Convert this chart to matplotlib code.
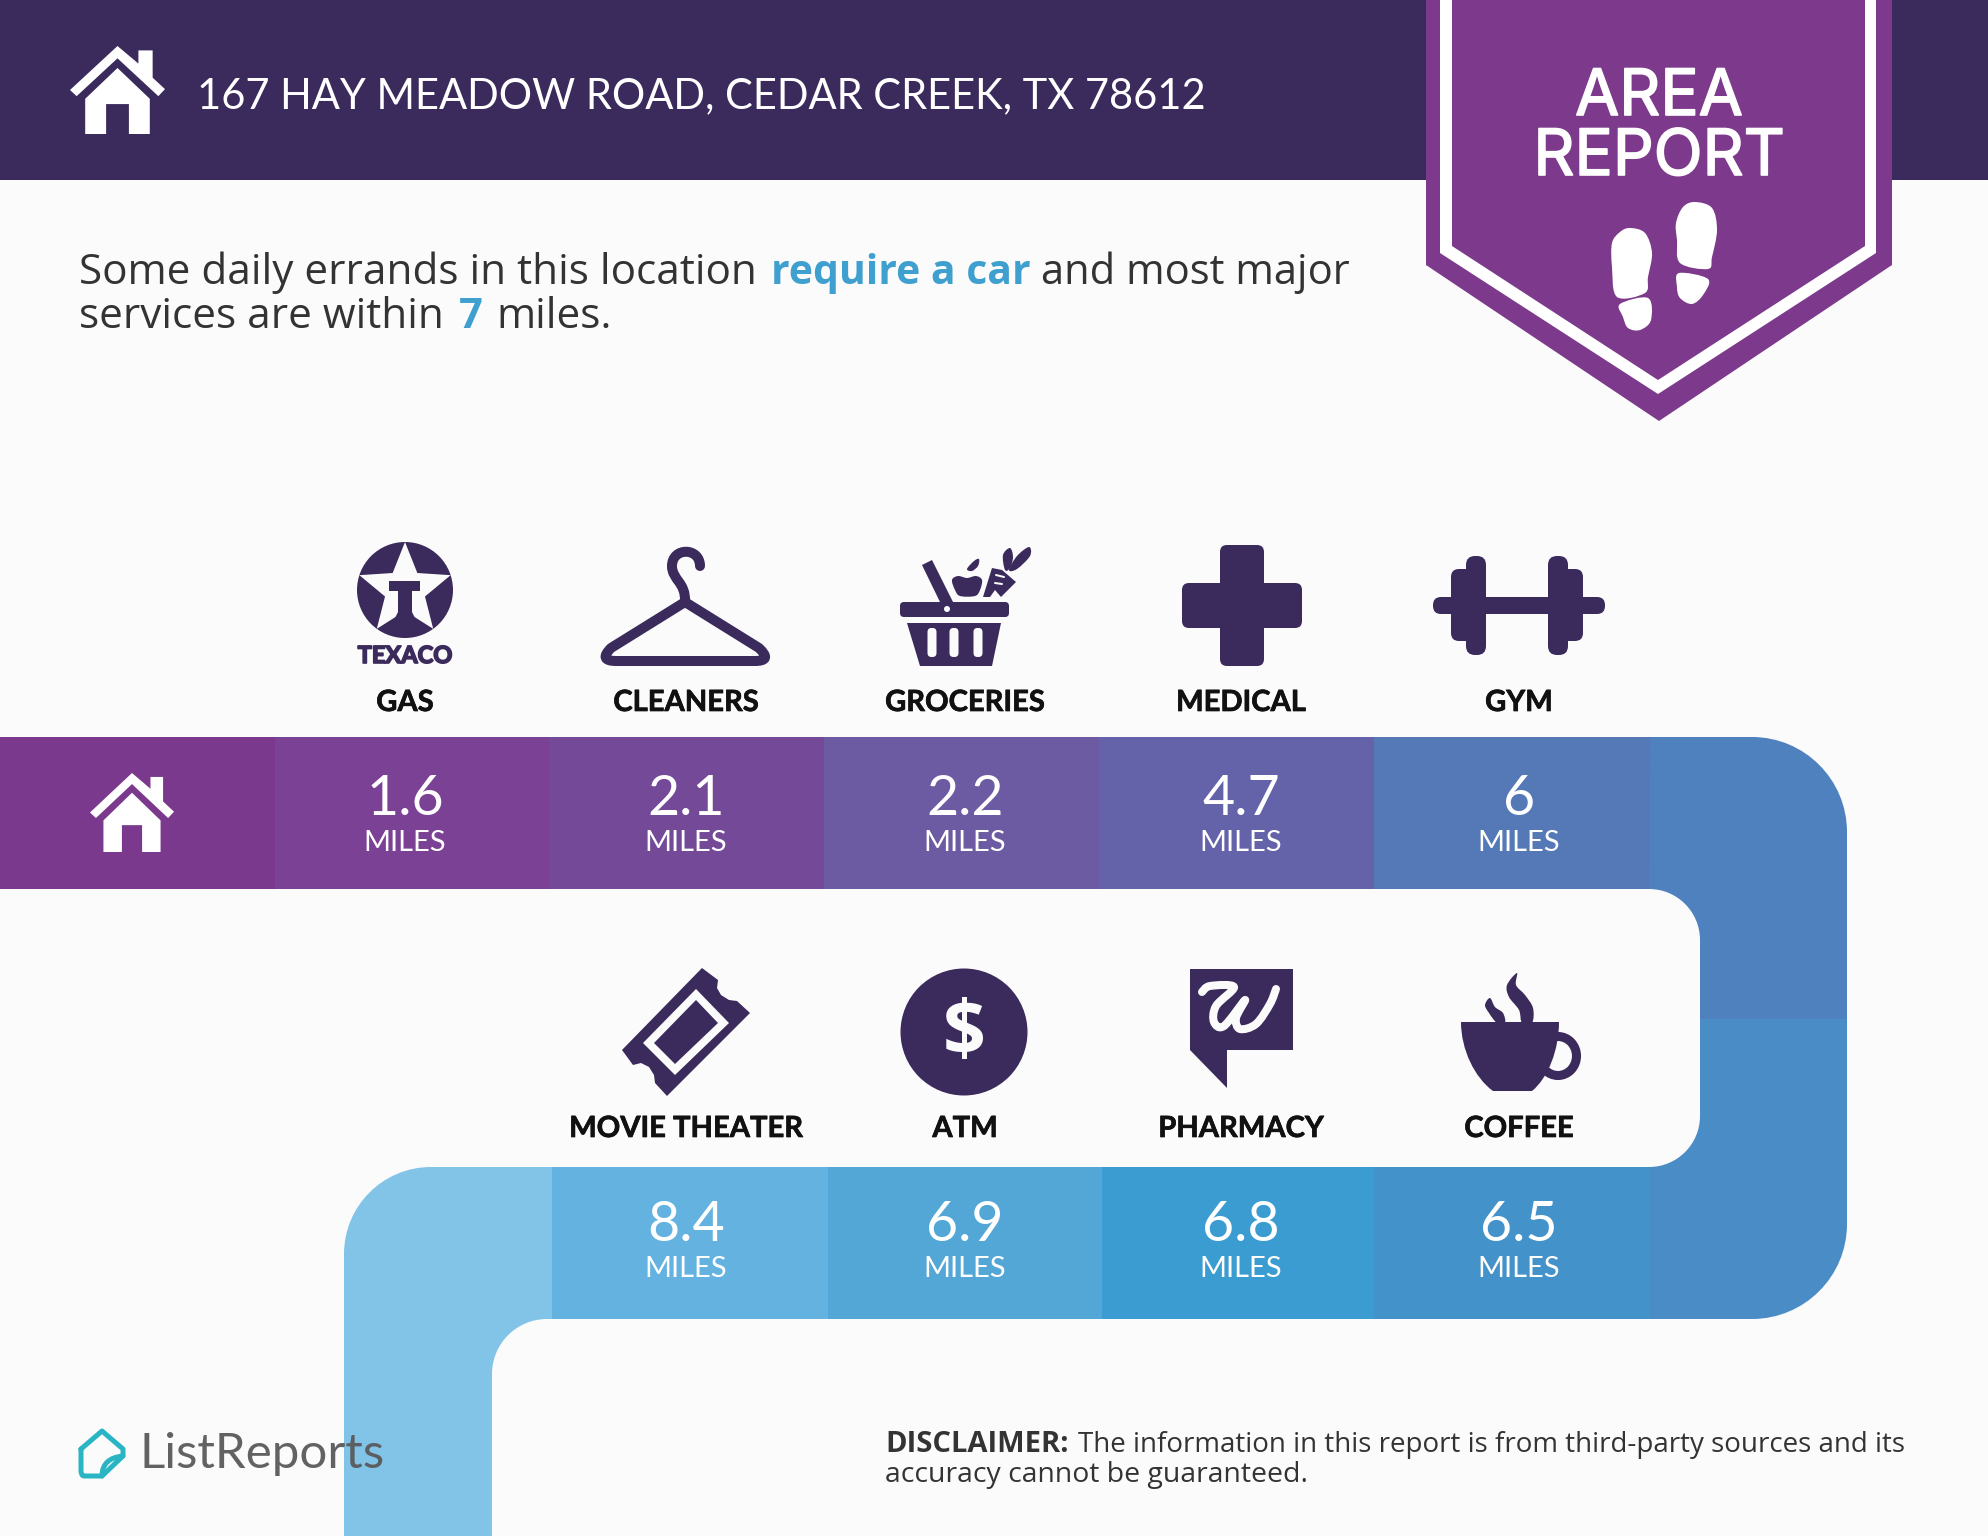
import numpy as np
import matplotlib
matplotlib.use('Agg')
import matplotlib.pyplot as plt
import matplotlib.patheffects as pe
from matplotlib.patches import Polygon, Rectangle, Circle, Ellipse, FancyBboxPatch, PathPatch
from matplotlib.path import Path

# Chart values
address = '167 HAY MEADOW ROAD, CEDAR CREEK, TX 78612'
top_labels = ['GAS', 'CLEANERS', 'GROCERIES', 'MEDICAL', 'GYM']
top_miles = [1.6, 2.1, 2.2, 4.7, 6]
bottom_labels = ['MOVIE THEATER', 'ATM', 'PHARMACY', 'COFFEE']
bottom_miles = [8.4, 6.9, 6.8, 6.5]

# Colours
BG = '#fbfbfb'
DARK = '#3b2a5c'
PURPLE = '#7d398c'
BLUE_TXT = '#3fa0cf'
GREY_TXT = '#333333'
top_colors = ['#7b398d', '#7a4195', '#744a98', '#6c5aa2', '#6463a9', '#5579b7']
bottom_colors = ['#81c4e8', '#64b2e0', '#52a7d6', '#3b9cd2', '#4392ca']
RIGHT_UP = '#4e81bd'
RIGHT_DOWN = '#4a8cc6'

plt.rcParams['font.family'] = ['Lato', 'DejaVu Sans']
BODY = ['Open Sans', 'DejaVu Sans']
INTER = ['Inter', 'DejaVu Sans']

fig = plt.figure(figsize=(19.88, 15.36), dpi=100, facecolor=BG)
ax = fig.add_axes([0, 0, 1, 1])
ax.set_xlim(0, 1988)
ax.set_ylim(1536, 0)
ax.axis('off')


def poly(pts, color, z=3):
    ax.add_patch(Polygon(pts, closed=True, facecolor=color, edgecolor='none', zorder=z))


def spline_path(pts, closed):
    # Catmull-Rom through pts, written as cubic beziers
    pts = np.array(pts, dtype=float)
    n = len(pts)
    verts = [pts[0]]
    codes = [Path.MOVETO]
    for i in range(n if closed else n - 1):
        if closed:
            p0, p1, p2, p3 = pts[(i - 1) % n], pts[i], pts[(i + 1) % n], pts[(i + 2) % n]
        else:
            p0, p1, p2, p3 = pts[max(i - 1, 0)], pts[i], pts[i + 1], pts[min(i + 2, n - 1)]
        verts += [p1 + (p2 - p0) / 6, p2 - (p3 - p1) / 6, p2]
        codes += [Path.CURVE4] * 3
    return Path(verts, codes)


def blob(pts, color, z=3):
    ax.add_patch(PathPatch(spline_path(pts, True), facecolor=color, edgecolor='none', zorder=z))


def curve(pts, color, width, z=3):
    ax.add_patch(PathPatch(spline_path(pts, False), facecolor='none', edgecolor=color, lw=width * 0.72,
                           capstyle='round', joinstyle='round', zorder=z))


def stroke(verts, codes, color, width, z=3):
    ax.add_patch(PathPatch(Path(verts, codes), facecolor='none', edgecolor=color,
                           lw=width * 0.72, capstyle='round', joinstyle='round', zorder=z))


def rbox(x0, y0, x1, y1, r, color, z=3):
    ax.add_patch(FancyBboxPatch((x0 + r, y0 + r), x1 - x0 - 2 * r, y1 - y0 - 2 * r, boxstyle=f'round,pad={r}',
                                facecolor=color, edgecolor='none', zorder=z))


def house(x, y, w, h, color, z=4):
    pts = [(0, .5), (.5, 0), (.72, .2), (.72, .05), (.87, .05), (.87, .36), (1, .49), (.93, .57),
           (.5, .14), (.07, .57)]
    poly([(x + a * w, y + b * h) for a, b in pts], color, z)
    pts = [(.16, .6), (.5, .25), (.84, .6), (.84, 1), (.62, 1), (.62, .66), (.38, .66), (.38, 1), (.16, 1)]
    poly([(x + a * w, y + b * h) for a, b in pts], color, z)


def body_text(x, y, words, size, color=GREY_TXT, weight='normal'):
    ax.text(x, y, words, fontsize=size, color=color, fontweight=weight, family=BODY, va='baseline', ha='left', zorder=6)


# Header
ax.add_patch(Rectangle((0, 0), 1988, 180, facecolor=DARK, edgecolor='none', zorder=1))
house(70, 46, 95, 88, 'white')
ax.text(197, 108, address, fontsize=30, color='white', va='baseline', zorder=6)

# Banner
poly([(1426, 0), (1892, 0), (1892, 265), (1659, 421), (1426, 265)], PURPLE, 2)
poly([(1440, 0), (1876, 0), (1876, 253), (1658, 394), (1440, 253)], 'white', 2)
poly([(1452, 0), (1865, 0), (1865, 246), (1658, 380), (1452, 246)], PURPLE, 2)
heavy = [pe.withStroke(linewidth=1.2, foreground='white')]
ax.text(1659, 115, 'AREA', fontsize=46, family=INTER, color='white', ha='center', va='baseline', zorder=6, path_effects=heavy)
ax.text(1659, 175, 'REPORT', fontsize=46, family=INTER, color='white', ha='center', va='baseline', zorder=6, path_effects=heavy)

# Foot prints
blob([(1630, 228), (1645, 233), (1652, 253), (1648, 277), (1645, 293), (1617, 297), (1612, 267), (1612, 243), (1620, 232)], 'white', 4)
blob([(1620, 304), (1648, 298), (1651, 320), (1640, 330), (1628, 328), (1623, 317)], 'white', 4)
blob([(1695, 202), (1712, 208), (1717, 230), (1712, 257), (1708, 269), (1680, 263), (1677, 240), (1676, 223), (1683, 207)], 'white', 4)
blob([(1679, 273), (1708, 279), (1703, 295), (1692, 304), (1680, 298), (1677, 287)], 'white', 4)

# Intro text
body_text(79, 284, 'Some daily errands in this location', 30.4)
body_text(771, 284, 'require a car', 29.4, BLUE_TXT, 'bold')
body_text(1041, 284, 'and most major', 30)
body_text(79, 328, 'services are within', 30.4)
body_text(459, 328, '7', 30, BLUE_TXT, 'bold')
body_text(496, 328, 'miles.', 30.4)

# Ribbon, top row
top_edges = [0, 275, 549, 824, 1099, 1374, 1650]
for i in range(6):
    ax.add_patch(Rectangle((top_edges[i], 737), top_edges[i + 1] - top_edges[i], 152,
                           facecolor=top_colors[i], edgecolor='none', zorder=2))
K = 0.5523
verts = [(1650, 737), (1752, 737), (1752 + 95 * K, 737), (1847, 832 - 95 * K), (1847, 832), (1847, 1019),
         (1700, 1019), (1700, 940), (1700, 940 - 51 * K), (1649 + 51 * K, 889), (1649, 889), (1650, 737)]
codes = [Path.MOVETO, Path.LINETO, Path.CURVE4, Path.CURVE4, Path.CURVE4, Path.LINETO, Path.LINETO, Path.LINETO,
         Path.CURVE4, Path.CURVE4, Path.CURVE4, Path.CLOSEPOLY]
ax.add_patch(PathPatch(Path(verts, codes), facecolor=RIGHT_UP, edgecolor='none', zorder=2))

# Ribbon, bottom row
verts = [(1650, 1319), (1752, 1319), (1752 + 95 * K, 1319), (1847, 1224 + 95 * K), (1847, 1224), (1847, 1019),
         (1700, 1019), (1700, 1116), (1700, 1116 + 51 * K), (1649 + 51 * K, 1167), (1649, 1167), (1650, 1319)]
ax.add_patch(PathPatch(Path(verts, codes), facecolor=RIGHT_DOWN, edgecolor='none', zorder=2))
bottom_edges = [552, 828, 1102, 1374, 1650]
for i in range(4):
    ax.add_patch(Rectangle((bottom_edges[i], 1167), bottom_edges[i + 1] - bottom_edges[i], 152,
                           facecolor=bottom_colors[i + 1], edgecolor='none', zorder=2))
verts = [(552, 1167), (431, 1167), (431 - 87 * K, 1167), (344, 1254 - 87 * K), (344, 1254), (344, 1536),
         (492, 1536), (492, 1374), (492, 1374 - 55 * K), (547 - 55 * K, 1319), (547, 1319), (552, 1319), (552, 1167)]
codes2 = [Path.MOVETO, Path.LINETO, Path.CURVE4, Path.CURVE4, Path.CURVE4, Path.LINETO, Path.LINETO, Path.LINETO,
          Path.CURVE4, Path.CURVE4, Path.CURVE4, Path.LINETO, Path.CLOSEPOLY]
ax.add_patch(PathPatch(Path(verts, codes2), facecolor=bottom_colors[0], edgecolor='none', zorder=2))

house(90, 773, 84, 79, 'white')

# Labels and values
top_x = [405, 686, 965, 1241, 1519]
bottom_x = [686, 965, 1241, 1519]
bold_edge = [pe.withStroke(linewidth=0.5, foreground='#111111')]
for labels, miles, xs, y_lab, y_num, y_mil in [(top_labels, top_miles, top_x, 711, 815, 851),
                                              (bottom_labels, bottom_miles, bottom_x, 1137, 1241, 1277)]:
    for lab, m, x in zip(labels, miles, xs):
        ax.text(x, y_lab, lab, fontsize=21, fontweight='bold', color='#111111', ha='center', va='baseline', zorder=6,
                path_effects=bold_edge)
        ax.text(x, y_num, f'{m:g}', fontsize=40, color='white', ha='center', va='baseline', zorder=6)
        ax.text(x, y_mil, 'MILES', fontsize=21, color='white', ha='center', va='baseline', zorder=6)

# Texaco
ax.add_patch(Circle((405, 590), 48, facecolor=DARK, edgecolor='none', zorder=3))
ang = np.deg2rad(np.arange(0, 360, 36) - 90)
rad = np.where(np.arange(10) % 2 == 0, 48, 21)
poly(np.column_stack([405 + rad * np.cos(ang), 590 + rad * np.sin(ang)]), BG, 4)
poly([(389, 581), (420, 581), (420, 591), (412, 591), (412, 612), (422, 632), (388, 632), (398, 612), (398, 591), (389, 591)], DARK, 5)
ax.text(405, 663, 'TEXACO', fontsize=17, fontweight='bold', color=DARK, ha='center', va='baseline', zorder=6,
        path_effects=[pe.withStroke(linewidth=1.2, foreground=DARK)])

# Hanger
M, L, C3, C4 = Path.MOVETO, Path.LINETO, Path.CURVE3, Path.CURVE4
stroke([(685, 602), (611, 648), (598, 661), (616, 661), (755, 661), (773, 661), (759, 648), (685, 602)],
       [M, L, C3, C3, L, C3, C3, L], DARK, 10)
stroke([(700, 566), (700, 547), (672, 547), (672, 566), (672, 580), (686, 582), (685, 602)], [M, C4, C4, C4, C4, C4, C4], DARK, 10)

# Groceries
rbox(900, 602, 1009, 617, 4, DARK)
ax.add_patch(Circle((947, 609), 3, facecolor=BG, edgecolor='none', zorder=5))
poly([(907, 623), (1001, 623), (992, 666), (920, 666)], DARK)
for sx in [932, 954, 978]:
    rbox(sx - 4.5, 628, sx + 4.5, 657, 4, BG, 4)
poly([(922, 565), (932, 560), (953, 602), (940, 602)], DARK, 4)
blob([(952, 580), (958, 576), (967, 578), (976, 576), (982, 580), (980, 590), (975, 596), (960, 596), (955, 590)], DARK)
blob([(967, 569), (974, 561), (979, 559), (978, 566), (972, 571)], DARK)
poly([(983, 597), (992, 568), (1002, 570), (1016, 582), (1001, 597), (995, 590), (990, 597)], DARK)
curve([(996, 575), (1004, 577)], BG, 2, 4)
curve([(995, 583), (1002, 584)], BG, 2, 4)
blob([(1005, 570), (1003, 555), (1010, 548), (1013, 557), (1010, 568)], DARK)
blob([(1009, 570), (1017, 556), (1029, 547), (1030, 556), (1017, 569)], DARK)

# Medical
rbox(1220, 545, 1264, 666, 7, DARK)
rbox(1182, 583, 1302, 628, 7, DARK)

# Gym
rbox(1433, 597, 1605, 614, 8, DARK)
rbox(1466, 556, 1486, 655, 9, DARK)
rbox(1451, 569, 1486, 641, 8, DARK)
rbox(1548, 556, 1568, 655, 9, DARK)
rbox(1548, 569, 1583, 641, 8, DARK)

# Ticket
poly([(702, 968), (718, 980), (717, 988), (721, 995), (729, 1000), (737, 1001), (750, 1013), (667, 1096), (655, 1083),
      (654, 1075), (649, 1067), (641, 1063), (633, 1065), (622, 1050)], DARK)
poly([(696, 989), (729, 1023), (675, 1075), (643, 1043)], BG, 4)
poly([(696, 1000), (718, 1023), (675, 1064), (654, 1043)], DARK, 5)

# ATM
ax.add_patch(Circle((964, 1032), 63.5, facecolor=DARK, edgecolor='none', zorder=3))
ax.text(964, 1054, '$', fontsize=54, fontweight='bold', family=BODY, color=BG, ha='center', va='baseline', zorder=6)

# Pharmacy
poly([(1190, 969), (1293, 969), (1293, 1050), (1227, 1050), (1227, 1088), (1190, 1050)], DARK)
curve([(1202, 992), (1210, 986), (1234, 987), (1216, 1006), (1214, 1022), (1224, 1026), (1245, 1000), (1236, 1018),
       (1240, 1029), (1256, 1024), (1270, 1004), (1276, 989)], BG, 8, 4)

# Coffee
ax.add_patch(PathPatch(Path([(1461, 1022), (1559, 1022), (1559, 1050), (1548, 1078), (1532, 1091), (1493, 1091),
                             (1475, 1078), (1461, 1050), (1461, 1022), (1461, 1022)],
                            [M, L, C4, C4, C4, L, C4, C4, C4, Path.CLOSEPOLY]),
                       facecolor=DARK, edgecolor='none', zorder=3))
ax.add_patch(Ellipse((1558, 1056), 37, 39, facecolor='none', edgecolor=DARK, lw=6.5, zorder=2))
blob([(1517, 973), (1507, 985), (1509, 997), (1519, 1010), (1522, 1023), (1532, 1023), (1533, 1008), (1525, 995), (1516, 985)], DARK)
blob([(1490, 998), (1485, 1005), (1489, 1013), (1497, 1023), (1505, 1023), (1503, 1013), (1495, 1007)], DARK)

# ListReports logo
stroke([(81, 1449), (102, 1431), (123, 1449), (123, 1456), (102, 1476), (84, 1476), (81, 1476), (81, 1470), (81, 1449)],
       [M, L, L, L, L, L, C3, C3, L], '#2ab5c4', 5)
stroke([(102, 1476), (102, 1458), (123, 1456)], [M, C3, C3], '#2ab5c4', 5)
ax.text(139, 1468, 'ListReports', fontsize=35.5, color='#5a5a5a', alpha=0.95, va='baseline', zorder=6)

# Disclaimer
body_text(885, 1452, 'DISCLAIMER:', 21, GREY_TXT, 'bold')
body_text(1078, 1452, 'The information in this report is from third-party sources and its', 20)
body_text(885, 1482, 'accuracy cannot be guaranteed.', 20.4)

fig.savefig('out.png', dpi=100, facecolor=BG)
